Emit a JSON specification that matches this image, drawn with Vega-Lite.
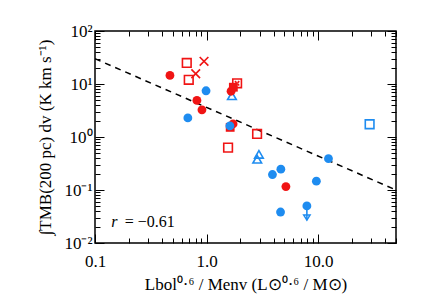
{
  "$schema": "https://vega.github.io/schema/vega-lite/v6.json",
  "width": 301,
  "height": 212,
  "autosize": "none",
  "padding": {"left": 95, "top": 31, "right": 29, "bottom": 61},
  "background": "white",
  "config": {
    "view": {"stroke": "black", "strokeWidth": 1.5},
    "axis": {"domain": false, "grid": false, "tickColor": "black", "tickWidth": 1, "labelColor": "black", "titleColor": "black", "labelFont": "Liberation Serif", "titleFont": "Liberation Serif", "labelFontSize": 17, "titleFontSize": 17, "titleFontWeight": "normal"}
  },
  "datasets": {
    "fit": [{"x": 0.1, "y": 30, "x2": 50, "y2": 0.1}],
    "open": [
      {"x": 1.69, "y": 6.0, "sample": "S2", "marker": "triangle"},
      {"x": 2.95, "y": 0.47, "sample": "S2", "marker": "triangle"},
      {"x": 2.85, "y": 0.38, "sample": "S2", "marker": "triangle"},
      {"x": 29, "y": 1.74, "sample": "S2", "marker": "square"},
      {"x": 0.665, "y": 25, "sample": "S1", "marker": "square"},
      {"x": 0.693, "y": 12, "sample": "S1", "marker": "square"},
      {"x": 2.84, "y": 1.14, "sample": "S1", "marker": "square"},
      {"x": 1.56, "y": 0.63, "sample": "S1", "marker": "square"},
      {"x": 0.95, "y": 26.8, "sample": "S1", "marker": "x"},
      {"x": 0.8, "y": 15.6, "sample": "S1", "marker": "x"},
      {"x": 1.88, "y": 10.3, "sample": "S1", "marker": "dotted"}
    ],
    "filled": [
      {"x": 0.47, "y": 14.5, "sample": "S1", "marker": "circle"},
      {"x": 0.82, "y": 4.9, "sample": "S1", "marker": "circle"},
      {"x": 0.91, "y": 3.25, "sample": "S1", "marker": "circle"},
      {"x": 1.66, "y": 7.3, "sample": "S1", "marker": "circle"},
      {"x": 1.74, "y": 8.7, "sample": "S1", "marker": "square"},
      {"x": 1.73, "y": 1.76, "sample": "S1", "marker": "circle"},
      {"x": 1.63, "y": 1.52, "sample": "S1", "marker": "square"},
      {"x": 5.15, "y": 0.116, "sample": "S1", "marker": "circle"},
      {"x": 0.99, "y": 7.45, "sample": "S2", "marker": "circle"},
      {"x": 0.68, "y": 2.29, "sample": "S2", "marker": "circle"},
      {"x": 1.62, "y": 1.62, "sample": "S2", "marker": "circle"},
      {"x": 12.4, "y": 0.39, "sample": "S2", "marker": "circle"},
      {"x": 3.9, "y": 0.196, "sample": "S2", "marker": "circle"},
      {"x": 4.64, "y": 0.247, "sample": "S2", "marker": "circle"},
      {"x": 9.66, "y": 0.147, "sample": "S2", "marker": "circle"},
      {"x": 4.61, "y": 0.0384, "sample": "S2", "marker": "circle"},
      {"x": 7.94, "y": 0.05, "sample": "S2", "marker": "circle"}
    ],
    "limit": [{"x": 7.94, "y": 0.05, "y2": 0.027, "yhead": 0.031}],
    "label": [{"x": 0.14, "y": 0.025, "r": "r", "rest": "= −0.61", "xr": 0.185}]
  },
  "layer": [
    {
      "data": {"name": "fit"},
      "mark": {"type": "rule", "strokeDash": [6, 5], "strokeWidth": 1.5, "color": "black", "clip": true},
      "encoding": {
        "x": {"field": "x", "type": "quantitative",
          "scale": {"type": "log", "domain": [0.1, 50], "nice": false, "zero": false},
          "axis": {"orient": "bottom",
            "values": [0.1,0.2,0.3,0.4,0.5,0.6,0.7,0.8,0.9,1,2,3,4,5,6,7,8,9,10,20,30,40,50],
            "tickSize": {"condition": {"test": "indexof([0.1,1,10], datum.value) >= 0", "value": -9}, "value": -5},
            "labelExpr": "indexof([0.1,1,10], datum.value) >= 0 ? format(datum.value, '.1f') : ''",
            "labelPadding": 19, "labelFlush": false, "labelOverlap": false,
            "title": "Lbol⁰·⁶ / Menv (L⊙⁰·⁶ / M⊙)", "titlePadding": 3}},
        "y": {"field": "y", "type": "quantitative",
          "scale": {"type": "log", "domain": [0.01, 100], "nice": false, "zero": false},
          "axis": {"orient": "left",
            "values": [0.01,0.02,0.03,0.04,0.05,0.06,0.07,0.08,0.09,0.1,0.2,0.3,0.4,0.5,0.6,0.7,0.8,0.9,1,2,3,4,5,6,7,8,9,10,20,30,40,50,60,70,80,90,100],
            "tickSize": {"condition": {"test": "indexof([0.01,0.1,1,10,100], datum.value) >= 0", "value": -9}, "value": -5},
            "labelExpr": "datum.value == 100 ? '10²' : datum.value == 10 ? '10¹' : datum.value == 1 ? '10⁰' : datum.value == 0.1 ? '10⁻¹' : datum.value == 0.01 ? '10⁻²' : ''",
            "labelPadding": 12, "labelFlush": false, "labelOverlap": false,
            "title": "∫TMB(200 pc) dv (K km s⁻¹)", "titlePadding": 9}},
        "x2": {"field": "x2"},
        "y2": {"field": "y2"}
      }
    },
    {
      "data": {"name": "open"},
      "mark": {"type": "point", "filled": false, "strokeWidth": 1.6, "size": 75, "opacity": 1},
      "encoding": {
        "x": {"field": "x", "type": "quantitative",
          "scale": {"type": "log", "domain": [0.1, 50], "nice": false, "zero": false},
          "axis": {"orient": "top", "labels": false, "title": null,
            "values": [0.1,0.2,0.3,0.4,0.5,0.6,0.7,0.8,0.9,1,2,3,4,5,6,7,8,9,10,20,30,40,50],
            "tickSize": {"condition": {"test": "indexof([0.1,1,10], datum.value) >= 0", "value": -9}, "value": -5}}},
        "y": {"field": "y", "type": "quantitative",
          "scale": {"type": "log", "domain": [0.01, 100], "nice": false, "zero": false},
          "axis": {"orient": "right", "labels": false, "title": null,
            "values": [0.01,0.02,0.03,0.04,0.05,0.06,0.07,0.08,0.09,0.1,0.2,0.3,0.4,0.5,0.6,0.7,0.8,0.9,1,2,3,4,5,6,7,8,9,10,20,30,40,50,60,70,80,90,100],
            "tickSize": {"condition": {"test": "indexof([0.01,0.1,1,10,100], datum.value) >= 0", "value": -9}, "value": -5}}},
        "color": {"field": "sample", "type": "nominal", "scale": {"domain": ["S1", "S2"], "range": ["#f01414", "#1e8cf0"]}, "legend": null},
        "shape": {"field": "marker", "type": "nominal", "scale": {"domain": ["circle", "square", "triangle", "x", "dotted"], "range": ["circle", "square", "triangle-up", "M-1,-1L1,1M-1,1L1,-1", "M-1,-1H1V1H-1Z M-0.5,-0.5L-0.1,-0.1 M0.1,0.1L0.5,0.5 M0.5,-0.5L0.1,-0.1 M-0.1,0.1L-0.5,0.5"]}, "legend": null}
      }
    },
    {
      "data": {"name": "filled"},
      "mark": {"type": "point", "filled": true, "size": 78, "opacity": 1},
      "encoding": {
        "x": {"field": "x", "type": "quantitative", "scale": {"type": "log", "domain": [0.1, 50], "nice": false, "zero": false}, "axis": null},
        "y": {"field": "y", "type": "quantitative", "scale": {"type": "log", "domain": [0.01, 100], "nice": false, "zero": false}, "axis": null},
        "color": {"field": "sample", "type": "nominal", "scale": {"domain": ["S1", "S2"], "range": ["#f01414", "#1e8cf0"]}, "legend": null},
        "shape": {"field": "marker", "type": "nominal", "legend": null}
      }
    },
    {
      "data": {"name": "limit"},
      "mark": {"type": "rule", "color": "#1e8cf0", "strokeWidth": 1.6},
      "encoding": {
        "x": {"field": "x", "type": "quantitative", "scale": {"type": "log", "domain": [0.1, 50], "nice": false, "zero": false}, "axis": null},
        "y": {"field": "y", "type": "quantitative", "scale": {"type": "log", "domain": [0.01, 100], "nice": false, "zero": false}, "axis": null},
        "y2": {"field": "y2"}
      }
    },
    {
      "data": {"name": "limit"},
      "mark": {"type": "point", "shape": "M-1,-0.6L1,-0.6L0,1Z", "filled": false, "strokeWidth": 1.5, "size": 40, "color": "#1e8cf0", "opacity": 1},
      "encoding": {
        "x": {"field": "x", "type": "quantitative", "scale": {"type": "log", "domain": [0.1, 50], "nice": false, "zero": false}, "axis": null},
        "y": {"field": "yhead", "type": "quantitative", "scale": {"type": "log", "domain": [0.01, 100], "nice": false, "zero": false}, "axis": null}
      }
    },
    {
      "data": {"name": "label"},
      "mark": {"type": "text", "font": "Liberation Serif", "fontSize": 16, "fontStyle": "italic", "align": "left", "baseline": "middle", "color": "black"},
      "encoding": {
        "x": {"field": "x", "type": "quantitative", "scale": {"type": "log", "domain": [0.1, 50], "nice": false, "zero": false}, "axis": null},
        "y": {"field": "y", "type": "quantitative", "scale": {"type": "log", "domain": [0.01, 100], "nice": false, "zero": false}, "axis": null},
        "text": {"field": "r"}
      }
    },
    {
      "data": {"name": "label"},
      "mark": {"type": "text", "font": "Liberation Serif", "fontSize": 16, "align": "left", "baseline": "middle", "color": "black"},
      "encoding": {
        "x": {"field": "xr", "type": "quantitative", "scale": {"type": "log", "domain": [0.1, 50], "nice": false, "zero": false}, "axis": null},
        "y": {"field": "y", "type": "quantitative", "scale": {"type": "log", "domain": [0.01, 100], "nice": false, "zero": false}, "axis": null},
        "text": {"field": "rest"}
      }
    }
  ],
  "resolve": {"axis": {"x": "independent", "y": "independent"}}
}
